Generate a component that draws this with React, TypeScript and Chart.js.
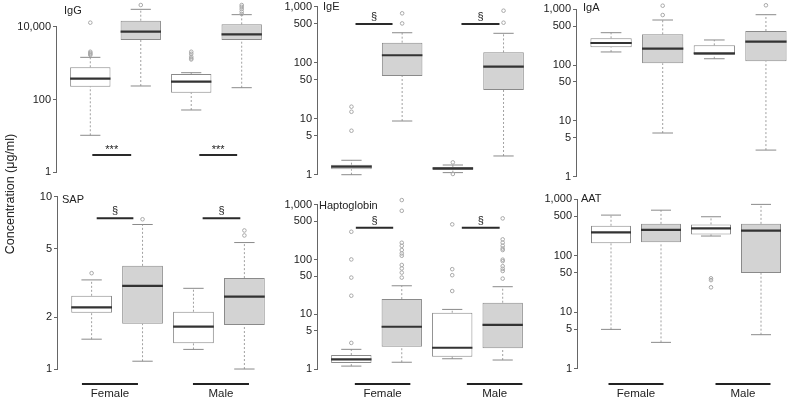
import React, { useEffect, useRef } from 'react';
import { Chart, registerables } from 'chart.js';

Chart.register(...registerables);

const FONT = '"Liberation Sans", Arial, Helvetica, sans-serif';

// Box order in every panel: Female (white), Female (grey), Male (white), Male (grey)
// Each box: [lower whisker, Q1, median, Q3, upper whisker]
const groups = ['Female', 'Male'];

const iggStats = [
  [10.4, 225, 373, 767, 1440],
  [235, 4310, 7300, 14600, 30000],
  [51.5, 154, 308, 502, 545],
  [211, 4310, 6170, 11600, 21400],
];
const iggOutliers = [[12900, 2050, 1900, 1780, 1670], [39400], [2050, 1800, 1500, 1350, 1260], [39400, 35000, 30500, 26000, 22300]];
const iggTicks = [1, 100, 10000];
const iggSigSpans = [[1.04, 1.81], [3.16, 3.91]];
const iggSigValue = 3;

const igeStats = [
  [1.0, 1.25, 1.39, 1.51, 1.81],
  [9.1, 58, 136, 228, 343],
  [1.09, 1.21, 1.3, 1.36, 1.49],
  [2.16, 32.6, 85, 153, 335],
];
const igeOutliers = [[16.4, 13.3, 6.1], [762, 503], [1.66, 1.03], [849, 518]];
const igeTicks = [1, 5, 10, 50, 100, 500, 1000];
const igeSigSpans = [[1.08, 1.81], [3.17, 3.92]];
const igeSigValue = 491;

const igaStats = [
  [172, 208, 249, 302, 381],
  [6.07, 108, 197, 356, 643],
  [130, 152, 163, 226, 282],
  [3.0, 117, 263, 408, 800],
];
const igaOutliers = [[], [1160, 790], [], [1180]];
const igaTicks = [1, 5, 10, 50, 100, 500, 1000];

const sapStats = [
  [1.49, 2.12, 2.28, 2.66, 3.29],
  [1.11, 1.83, 3.04, 3.97, 6.9],
  [1.3, 1.41, 1.76, 2.15, 2.94],
  [1.0, 1.8, 2.63, 3.37, 5.42],
];
const sapOutliers = [[3.6], [7.4], [], [5.96, 6.37]];
const sapTicks = [1, 2, 5, 10];
const sapSigSpans = [[1.1, 1.82], [3.18, 3.92]];
const sapSigValue = 7.5;
const sapGroupX = [1.36, 3.54];

const haptoStats = [
  [1.13, 1.29, 1.5, 1.8, 2.29],
  [1.33, 2.56, 5.93, 19.0, 33.3],
  [1.54, 1.68, 2.45, 10.7, 12.3],
  [1.46, 2.39, 6.4, 16.3, 32],
];
const haptoOutliers = [
  [3.0, 21.9, 47, 101, 324],
  [1230, 783, 204, 179, 150, 130, 118, 80, 69, 58, 47],
  [442, 67, 52, 26.7],
  [569, 235, 205, 180, 160, 150, 100, 94, 76, 68, 62, 45],
];
const haptoTicks = [1, 5, 10, 50, 100, 500, 1000];
const haptoSigSpans = [[1.09, 1.83], [3.19, 3.94]];
const haptoSigValue = 383;
const haptoGroupX = [1.62, 3.84];

const aatStats = [
  [5.0, 165, 257, 337, 520],
  [2.95, 172, 286, 364, 635],
  [222, 237, 303, 356, 486],
  [4.03, 49.3, 276, 364, 804],
];
const aatOutliers = [[], [], [39.8, 37, 27.6], []];
const aatTicks = [1, 5, 10, 50, 100, 500, 1000];
const aatGroupX = [1.5, 3.64];

type PanelCfg = {
  title: string;
  stats: number[][];
  outliers: number[][];
  ticks: number[];
  sigLabel?: string;
  sigSpans?: number[][];
  sigValue?: number;
  groupX?: number[];
  // layout
  axisX: number;
  plotTop: number;
  plotH: number;
  plotW: number;
  yMin: number;
  yMax: number;
  titleDx: number;
  titleY: number;
};

const panels: PanelCfg[] = [
  { title: 'IgG', stats: iggStats, outliers: iggOutliers, ticks: iggTicks, sigLabel: '***', sigSpans: iggSigSpans, sigValue: iggSigValue,
    axisX: 57, plotTop: 0, plotH: 181, plotW: 218, yMin: 0.577, yMax: 54100, titleDx: 7, titleY: 11 },
  { title: 'IgE', stats: igeStats, outliers: igeOutliers, ticks: igeTicks, sigLabel: '§', sigSpans: igeSigSpans, sigValue: igeSigValue,
    axisX: 318, plotTop: 0, plotH: 181, plotW: 219, yMin: 0.772, yMax: 1318, titleDx: 5, titleY: 7 },
  { title: 'IgA', stats: igaStats, outliers: igaOutliers, ticks: igaTicks,
    axisX: 577, plotTop: 0, plotH: 181, plotW: 223, yMin: 0.838, yMax: 1468, titleDx: 6, titleY: 8 },
  { title: 'SAP', stats: sapStats, outliers: sapOutliers, ticks: sapTicks, sigLabel: '§', sigSpans: sapSigSpans, sigValue: sapSigValue, groupX: sapGroupX,
    axisX: 58, plotTop: 190, plotH: 186, plotW: 220, yMin: 0.911, yMax: 10.94, titleDx: 4, titleY: 199.5 },
  { title: 'Haptoglobin', stats: haptoStats, outliers: haptoOutliers, ticks: haptoTicks, sigLabel: '§', sigSpans: haptoSigSpans, sigValue: haptoSigValue, groupX: haptoGroupX,
    axisX: 318, plotTop: 190, plotH: 186, plotW: 218, yMin: 0.745, yMax: 1880, titleDx: 1, titleY: 205.5 },
  { title: 'AAT', stats: aatStats, outliers: aatOutliers, ticks: aatTicks, groupX: aatGroupX,
    axisX: 578, plotTop: 190, plotH: 186, plotW: 216, yMin: 0.752, yMax: 1442, titleDx: 3, titleY: 198.5 },
];

const YW = 60;
const PT = 12;
const PR = 12;

function Panel({ cfg }: { cfg: PanelCfg }) {
  const ref = useRef<HTMLCanvasElement>(null);
  const PB = cfg.groupX ? 30 : 12;
  const W = YW + cfg.plotW + PR;
  const H = PT + cfg.plotH + PB;
  const left = cfg.axisX - YW;
  const top = cfg.plotTop - PT;

  useEffect(() => {
    if (!ref.current) return;
    const fills = ['#ffffff', '#d3d3d3', '#ffffff', '#d3d3d3'];
    const xs = cfg.stats.map((_, i) => i + 1);

    const boxData = cfg.stats.map((s, i) => ({ x: xs[i], y: [s[1], s[3]] }));
    const whiskerData: any[] = [];
    const capData: any[] = [];
    const medianData: any[] = [];
    cfg.stats.forEach((s, i) => {
      const x = xs[i];
      whiskerData.push({ x, y: s[0] }, { x, y: s[1] }, { x, y: null }, { x, y: s[3] }, { x, y: s[4] }, { x, y: null });
      capData.push({ x: x - 0.2, y: s[0] }, { x: x + 0.2, y: s[0] }, { x, y: null }, { x: x - 0.2, y: s[4] }, { x: x + 0.2, y: s[4] }, { x, y: null });
      medianData.push({ x: x - 0.4, y: s[2] }, { x: x + 0.4, y: s[2] }, { x, y: null });
    });
    const outData: any[] = [];
    cfg.outliers.forEach((arr, i) => arr.forEach((v) => outData.push({ x: xs[i], y: v })));
    const sigData: any[] = [];
    (cfg.sigSpans || []).forEach((sp) => {
      sigData.push({ x: sp[0], y: cfg.sigValue }, { x: sp[1], y: cfg.sigValue }, { x: sp[0], y: null });
    });

    const annot = {
      id: 'annot' + cfg.title,
      afterDraw(chart: any) {
        const { ctx, chartArea, scales } = chart;
        const xS = scales.x;
        const yS = scales.y;
        ctx.save();
        // axis line spanning the tick range
        ctx.strokeStyle = '#666';
        ctx.lineWidth = 1;
        const ax = Math.round(chartArea.left) - 0.5;
        ctx.beginPath();
        ctx.moveTo(ax, yS.getPixelForValue(cfg.ticks[0]));
        ctx.lineTo(ax, yS.getPixelForValue(cfg.ticks[cfg.ticks.length - 1]));
        ctx.stroke();
        // title
        ctx.fillStyle = '#222';
        ctx.font = `11px ${FONT}`;
        ctx.textAlign = 'left';
        ctx.textBaseline = 'middle';
        ctx.fillText(cfg.title, chartArea.left + cfg.titleDx, cfg.titleY - top);
        // significance labels
        if (cfg.sigSpans && cfg.sigLabel) {
          ctx.textAlign = 'center';
          ctx.textBaseline = 'alphabetic';
          const ly = yS.getPixelForValue(cfg.sigValue);
          cfg.sigSpans.forEach((sp) => {
            const cx = xS.getPixelForValue((sp[0] + sp[1]) / 2);
            ctx.fillText(cfg.sigLabel, cx, ly - (cfg.sigLabel === '***' ? 2 : 4));
          });
        }
        // group labels
        if (cfg.groupX) {
          cfg.groupX.forEach((gx, gi) => {
            const cx = xS.getPixelForValue(gx);
            const hw = xS.getPixelForValue(gx + 0.55) - cx;
            const ly = chartArea.bottom + 8;
            ctx.strokeStyle = '#222';
            ctx.lineWidth = 2;
            ctx.beginPath();
            ctx.moveTo(cx - hw, ly);
            ctx.lineTo(cx + hw, ly);
            ctx.stroke();
            ctx.fillStyle = '#222';
            ctx.font = `11.5px ${FONT}`;
            ctx.textAlign = 'center';
            ctx.textBaseline = 'middle';
            ctx.fillText(groups[gi], cx, chartArea.bottom + 18);
          });
        }
        ctx.restore();
      },
    };

    const chart = new Chart(ref.current, {
      type: 'bar',
      data: {
        datasets: [
          {
            type: 'line',
            data: sigData,
            borderColor: '#2a2a2a',
            borderWidth: 2,
            pointRadius: 0,
            spanGaps: false,
            order: 1,
          } as any,
          {
            type: 'line',
            data: medianData,
            borderColor: '#333333',
            borderWidth: 2.2,
            pointRadius: 0,
            spanGaps: false,
            order: 2,
          } as any,
          {
            type: 'scatter',
            data: outData,
            pointRadius: 1.8,
            pointBorderColor: '#a8a8a8',
            pointBackgroundColor: 'rgba(0,0,0,0)',
            pointBorderWidth: 1,
            clip: false,
            order: 3,
          } as any,
          {
            type: 'line',
            data: capData,
            borderColor: '#8a8a8a',
            borderWidth: 1,
            pointRadius: 0,
            spanGaps: false,
            order: 4,
          } as any,
          {
            type: 'bar',
            data: boxData,
            backgroundColor: fills,
            borderColor: '#8a8a8a',
            borderWidth: 1,
            borderSkipped: false,
            categoryPercentage: 0.8,
            barPercentage: 1,
            order: 5,
          } as any,
          {
            type: 'line',
            data: whiskerData,
            borderColor: '#a0a0a0',
            borderWidth: 1,
            borderDash: [2, 2],
            pointRadius: 0,
            spanGaps: false,
            order: 6,
          } as any,
        ],
      },
      options: {
        animation: false,
        responsive: false,
        maintainAspectRatio: false,
        events: [],
        layout: { padding: { left: 0, top: PT, right: PR, bottom: PB } },
        plugins: { legend: { display: false }, tooltip: { enabled: false }, title: { display: false } },
        scales: {
          x: {
            type: 'linear',
            min: 0.34,
            max: 4.66,
            offset: false,
            display: false,
            afterBuildTicks: (s: any) => {
              s.ticks = [1, 2, 3, 4].map((v) => ({ value: v }));
            },
          },
          y: {
            type: 'logarithmic',
            min: cfg.yMin,
            max: cfg.yMax,
            bounds: 'data',
            position: 'left',
            afterBuildTicks: (s: any) => {
              s.ticks = cfg.ticks.map((v) => ({ value: v }));
            },
            afterFit: (s: any) => {
              s.width = YW;
            },
            ticks: {
              autoSkip: false,
              padding: 2,
              color: '#222',
              font: { family: FONT, size: 11 },
              callback: (v: any) => Number(v).toLocaleString('en-US'),
            },
            grid: { drawOnChartArea: false, drawTicks: true, tickLength: 4, color: '#666', lineWidth: 1 },
            border: { display: false },
          },
        },
      } as any,
      plugins: [annot],
    } as any);
    return () => chart.destroy();
  }, []);

  return (
    <canvas
      ref={ref}
      width={W}
      height={H}
      style={{ position: 'absolute', left, top, width: W, height: H }}
    />
  );
}

export default function App() {
  return (
    <div
      style={{
        position: 'fixed',
        left: 0,
        top: 0,
        width: 788,
        height: 402,
        overflow: 'hidden',
        background: '#ffffff',
      }}
    >
      {panels.map((p) => (
        <Panel key={p.title} cfg={p} />
      ))}
      <div
        style={{
          position: 'absolute',
          left: -70,
          top: 186,
          width: 160,
          height: 16,
          lineHeight: '16px',
          textAlign: 'center',
          transform: 'rotate(-90deg)',
          transformOrigin: '80px 8px',
          whiteSpace: 'nowrap',
          fontFamily: FONT,
          fontSize: 12.5,
          color: '#222',
        }}
      >
        Concentration (μg/ml)
      </div>
    </div>
  );
}
